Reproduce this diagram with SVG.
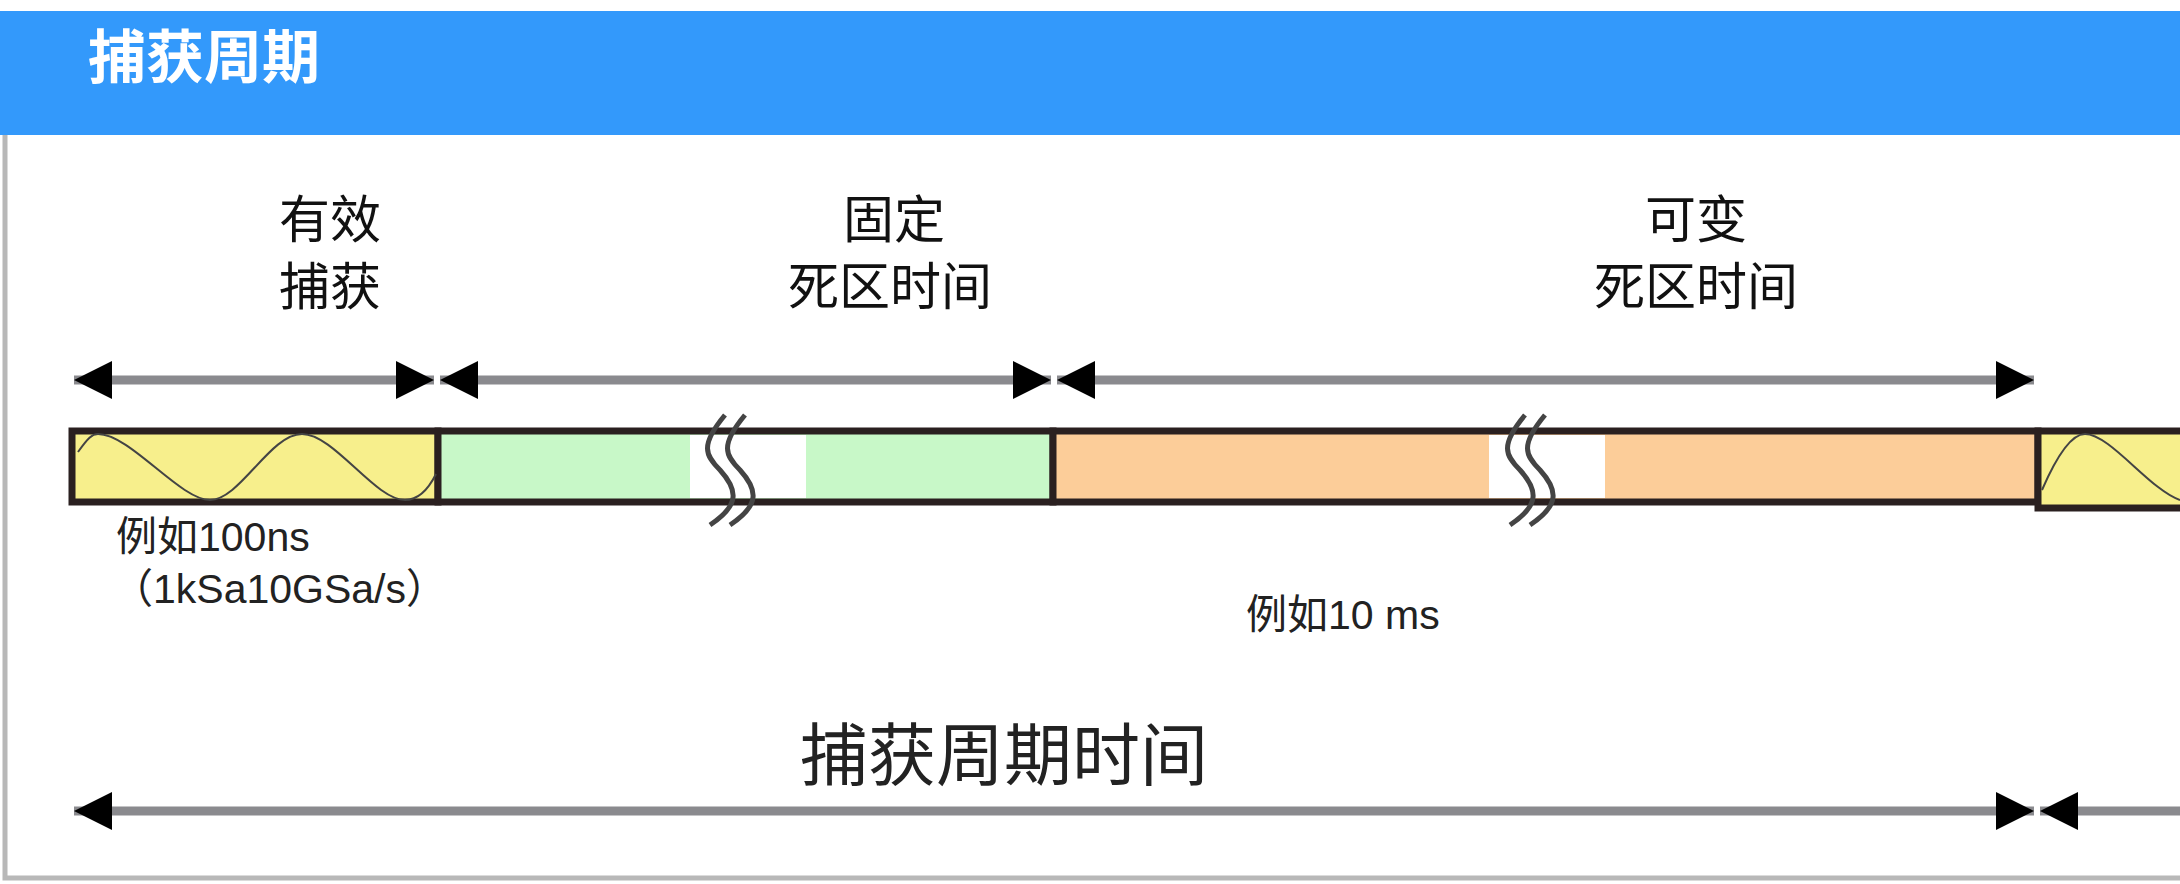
<svg xmlns="http://www.w3.org/2000/svg" width="2180" height="884" viewBox="0 0 2180 884">
<style>
.cn{font-family:"Noto Sans CJK SC","Liberation Sans",sans-serif;fill:#111}
.lbl{font-size:51px;text-anchor:middle}
.sm{font-family:"Liberation Sans","Noto Sans CJK SC",sans-serif;font-size:41px;fill:#222}
.ln{stroke:#8a8a8e;stroke-width:9;fill:none}
.seg{stroke:#2a2020;stroke-width:7}
.wave{fill:none;stroke:#444;stroke-width:2}
.brk{fill:none;stroke:#444;stroke-width:5}
</style>
<defs>
<marker id="ah" viewBox="0 0 10 10" refX="10" refY="5" markerWidth="38" markerHeight="38" markerUnits="userSpaceOnUse" orient="auto-start-reverse"><path d="M0,0L10,5L0,10z" fill="#000"/></marker>
</defs>
<rect width="2180" height="884" fill="#fff"/>
<g id="header">
<rect x="0" y="11" width="2180" height="124" fill="#3399fb"/>
<text x="88" y="78" font-family="Noto Sans CJK SC,sans-serif" font-size="58" font-weight="bold" fill="#fff">捕获周期</text>
</g>
<path d="M5,135V878H2180" stroke="#b8b8b8" stroke-width="5" fill="none"/>
<g id="labels">
<text class="cn lbl" x="330" y="238">有效</text>
<text class="cn lbl" x="330" y="305">捕获</text>
<text class="cn lbl" x="894" y="238">固定</text>
<text class="cn lbl" x="890" y="305">死区时间</text>
<text class="cn lbl" x="1696" y="238">可变</text>
<text class="cn lbl" x="1696" y="305">死区时间</text>
</g>
<g id="connectors">
<line class="ln" x1="74" y1="380" x2="434" y2="380" marker-start="url(#ah)" marker-end="url(#ah)"/>
<line class="ln" x1="440" y1="380" x2="1051" y2="380" marker-start="url(#ah)" marker-end="url(#ah)"/>
<line class="ln" x1="1057" y1="380" x2="2034" y2="380" marker-start="url(#ah)" marker-end="url(#ah)"/>
<line class="ln" x1="74" y1="811" x2="2034" y2="811" marker-start="url(#ah)" marker-end="url(#ah)"/>
<line class="ln" x1="2040" y1="811" x2="2185" y2="811" marker-start="url(#ah)"/>
</g>
<g id="bar">
<rect x="72" y="431" width="366" height="71" fill="#f7ef8c" class="seg"/>
<rect x="438" y="431" width="615" height="71" fill="#c8f8c8" class="seg"/>
<rect x="1053" y="431" width="985" height="71" fill="#fccd99" class="seg"/>
<rect x="2038" y="431" width="150" height="77" fill="#f7ef8c" class="seg"/>
<rect x="690" y="435" width="116" height="63" fill="#fff"/>
<rect x="1489" y="435" width="116" height="63" fill="#fff"/>
<path class="wave" d="M78,452C88,438 92,434 98,434C130,434 180,500 210,500C240,500 270,434 302,434C334,434 375,500 405,500C420,500 430,486 436,474"/>
<path class="wave" d="M2042,490C2055,460 2070,434 2085,434C2110,434 2150,490 2180,500"/>
<path class="brk" d="M725,415C700,445 705,455 720,470C738,490 740,505 710,525M745,415C720,445 725,455 740,470C758,490 760,505 730,525"/>
<path class="brk" d="M1525,415C1500,445 1505,455 1520,470C1538,490 1540,505 1510,525M1545,415C1520,445 1525,455 1540,470C1558,490 1560,505 1530,525"/>
</g>
<g id="notes">
<text class="sm" x="116" y="551">例如100ns</text>
<text class="sm" x="112" y="603">（1kSa10GSa/s）</text>
<text class="sm" x="1246" y="629">例如10 ms</text>
<text x="1004" y="780" font-family="Noto Sans CJK SC,sans-serif" font-size="68" text-anchor="middle" fill="#222">捕获周期时间</text>
</g>
</svg>
